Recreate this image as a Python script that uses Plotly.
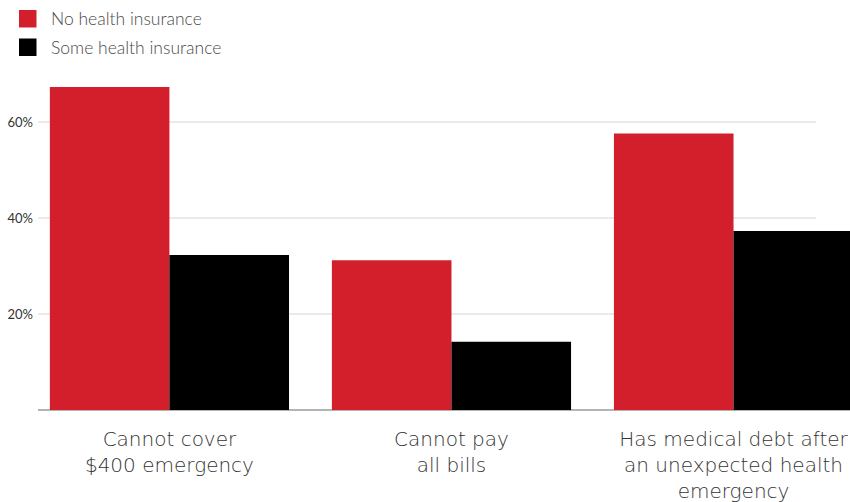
import plotly.graph_objects as go

categories = ["Cannot cover<br>$400 emergency",
              "Cannot pay<br>all bills",
              "Has medical debt after<br>an unexpected health<br>emergency"]
series_names = ["No health insurance", "Some health insurance"]
no_insurance = [67.3, 31.2, 57.6]
some_insurance = [32.3, 14.2, 37.3]
series_colors = ["#d31f2c", "#000000"]
y_ticks = [20, 40, 60]
y_tick_labels = ["20%", "40%", "60%"]

W, H = 850, 502
L, R, T, B = 38, 0, 74, 92
pw, ph = W - L - R, H - T - B

def px_x(x):
    return (x - L) / pw

def px_y(y):
    return (H - B - y) / ph

xs = list(range(len(categories)))
fig = go.Figure()
for name, vals, col in zip(series_names, [no_insurance, some_insurance], series_colors):
    fig.add_trace(go.Bar(x=xs, y=vals, name=name, marker=dict(color=col, line=dict(width=0)),
                         showlegend=False))

shapes = []
# horizontal gridlines behind the bars
for v in y_ticks:
    shapes.append(dict(type="line", xref="paper", yref="y", x0=0, x1=px_x(816), y0=v, y1=v,
                       line=dict(color="#d6d2d2", width=1), layer="below"))
# legend swatches
annotations = []
for i, (name, col) in enumerate(zip(series_names, series_colors)):
    top = 10 + i * 28.5
    shapes.append(dict(type="rect", xref="paper", yref="paper",
                       x0=px_x(19), x1=px_x(36.5), y0=px_y(top), y1=px_y(top + 17.5),
                       fillcolor=col, line=dict(width=0)))
    annotations.append(dict(xref="paper", yref="paper", x=px_x(49), y=px_y(top + 8.5),
                            text=name, showarrow=False, xanchor="left", yanchor="middle",
                            font=dict(family="Lato, sans-serif", size=17.5,
                                      color="#4a4a4a", weight=300)))

fig.update_layout(
    width=W, height=H,
    margin=dict(l=L, r=R, t=T, b=B, pad=0),
    paper_bgcolor="white", plot_bgcolor="white",
    barmode="group", bargap=0.152, bargroupgap=0,
    font=dict(family="Lato, Liberation Sans, sans-serif", color="#333333"),
    shapes=shapes, annotations=annotations,
    xaxis=dict(range=[-0.466, 2.413], tickvals=xs, ticktext=categories,
               showgrid=False, zeroline=False, showline=False, automargin=False,
               tickfont=dict(family="DejaVu Sans, sans-serif", size=20,
                             color="#333333", weight=200),
               ticks="", ticklabelstandoff=15),
    yaxis=dict(range=[0, 70], tickvals=y_ticks, ticktext=y_tick_labels, showgrid=False,
               zeroline=True, zerolinecolor="#b4b4b4", zerolinewidth=1.5,
               showline=False, ticks="", ticklabelstandoff=4, automargin=False,
               tickfont=dict(size=13, color="#333333")),
)
fig.write_html("out.html")
